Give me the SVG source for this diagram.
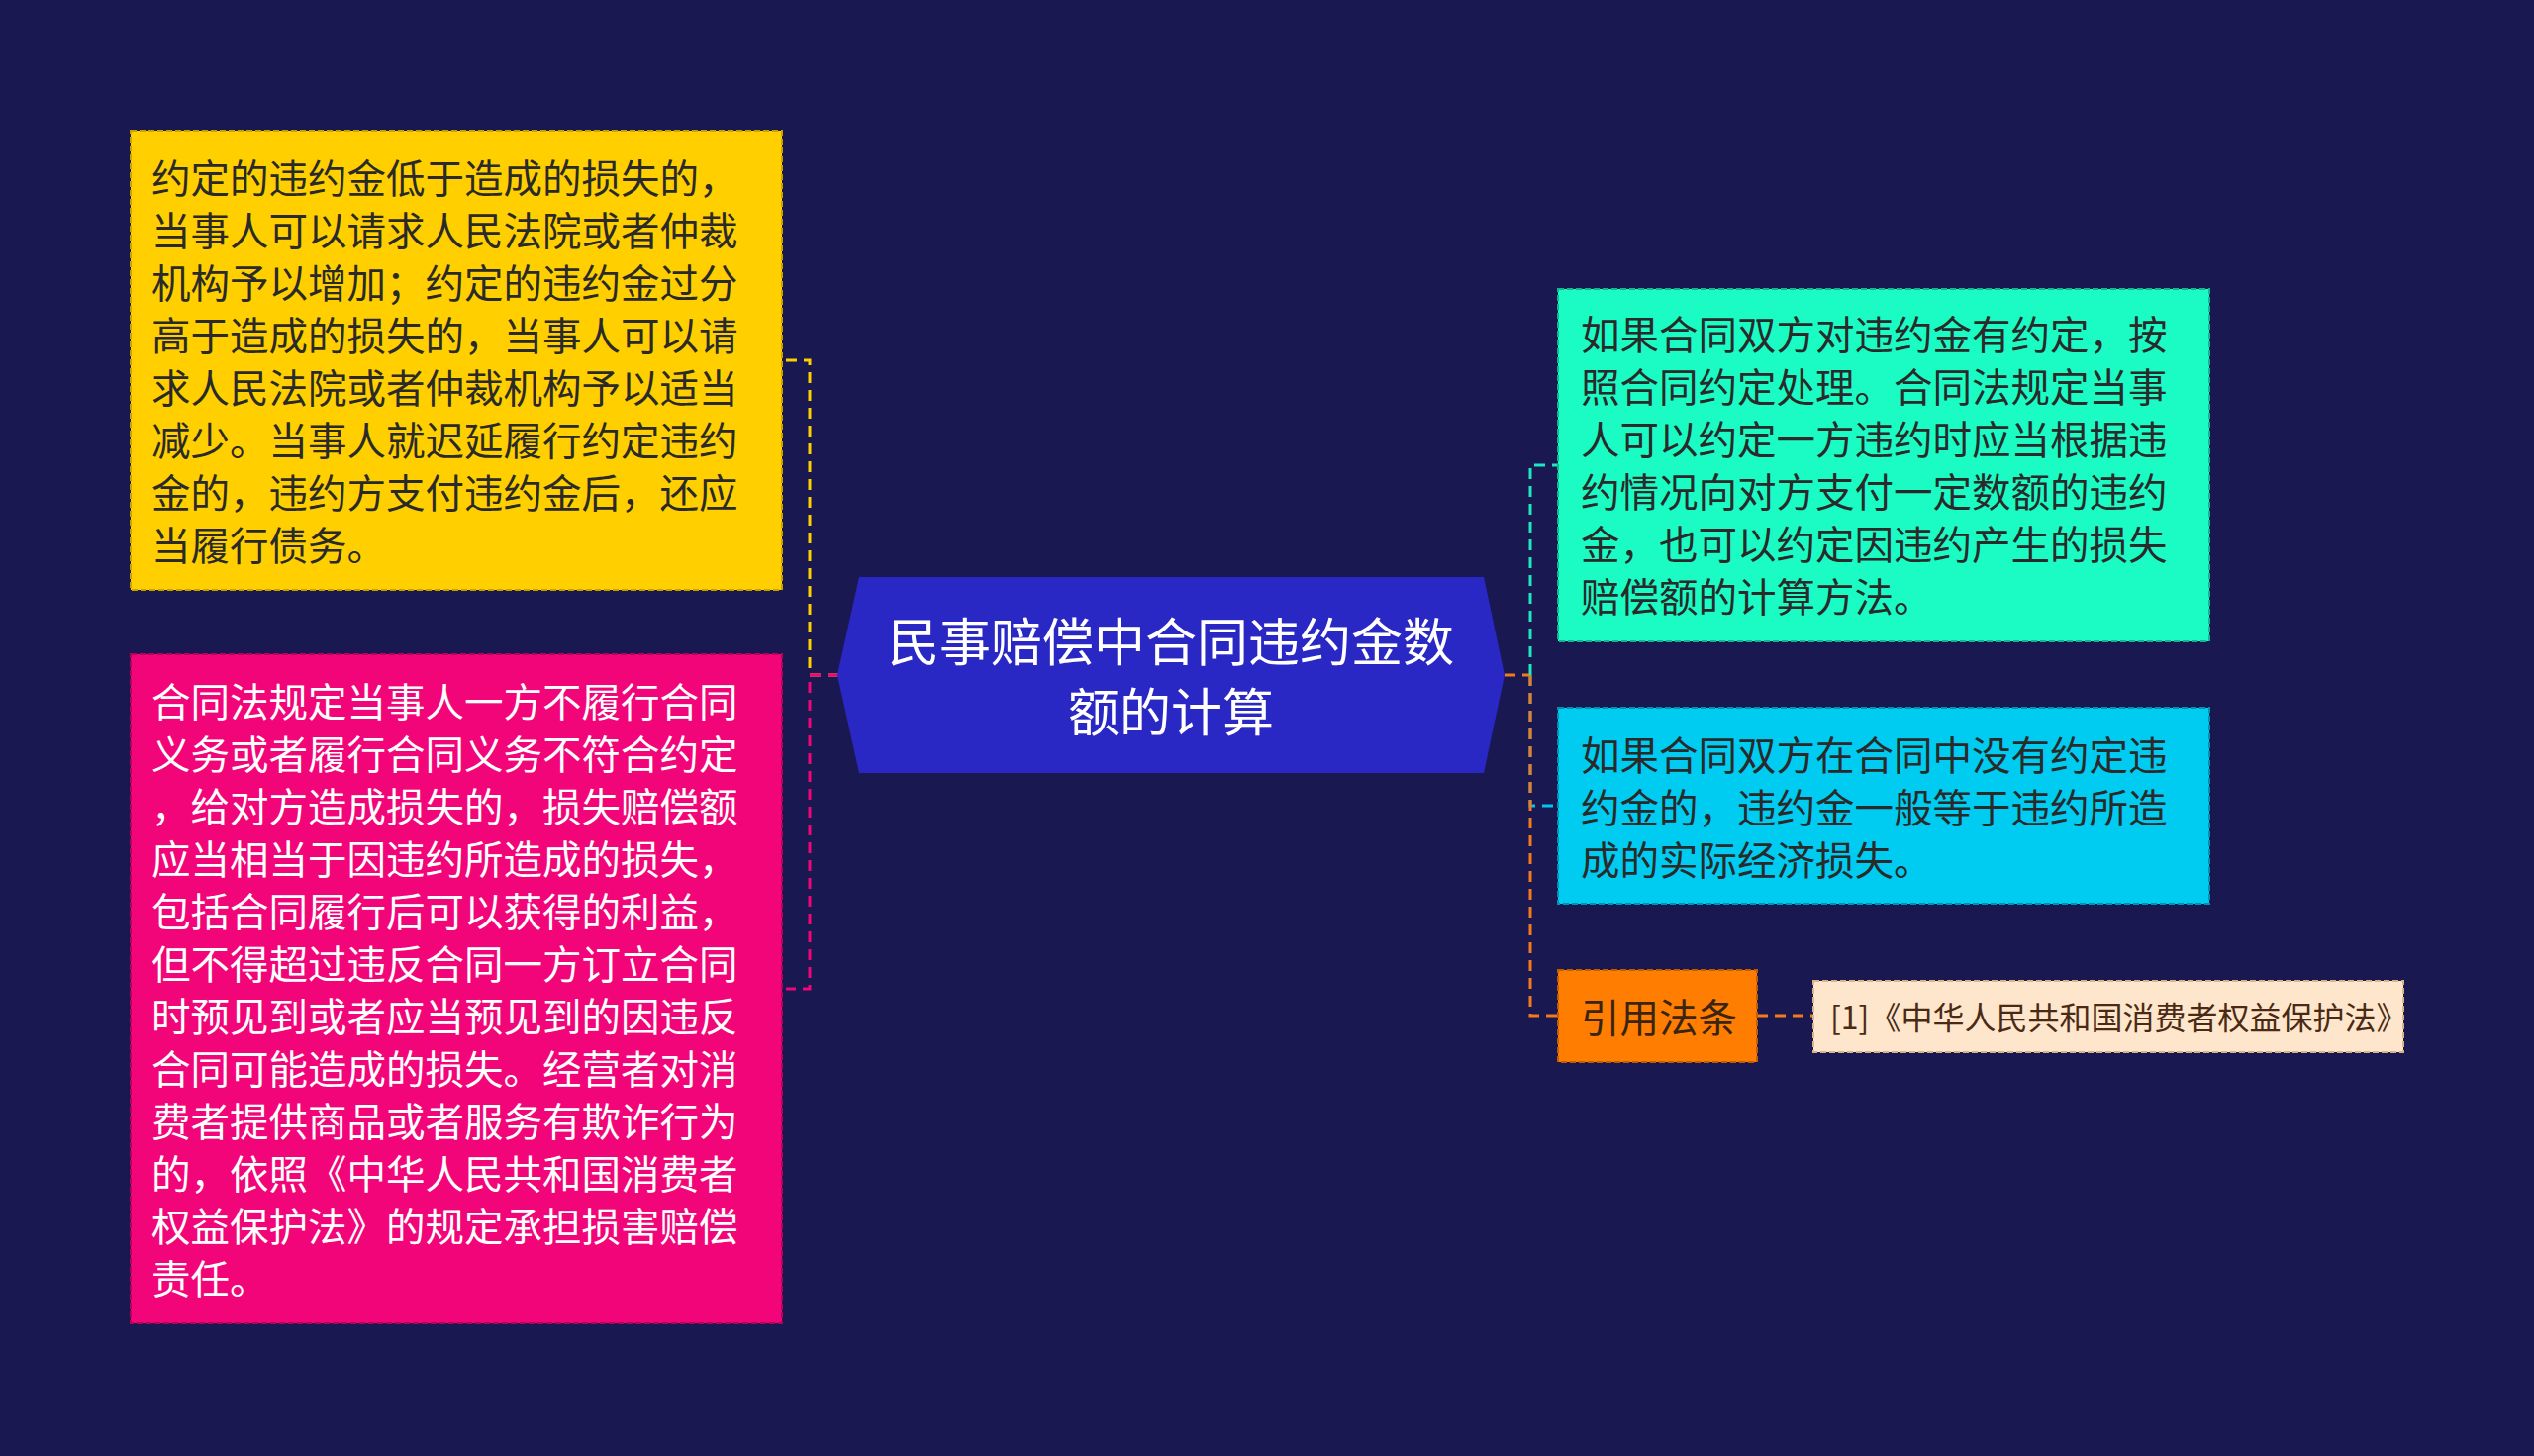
<svg xmlns="http://www.w3.org/2000/svg" width="2560" height="1471" viewBox="0 0 2560 1471">
<style>
text { font-family: "Noto Sans CJK SC", "Noto Sans", sans-serif; dominant-baseline: central; }
.t40 { font-size: 39.5px; }
.dark { fill: #2a2a2a; }
.white { fill: #ffffff; }
.conn { fill: none; stroke-width: 3; stroke-dasharray: 11 7; }
.box { stroke-width: 2; stroke-dasharray: 6 3; }
</style>
<rect x="0" y="0" width="2560" height="1471" fill="#1a1850"/>
<g id="connectors">
  <path class="conn" stroke="#ffd000" d="M847 682 H818 V364 H794"/>
  <path class="conn" stroke="#f0057a" d="M847 682 H818 V999 H794"/>
  <path class="conn" stroke="#f27a1c" d="M1520 682 H1546"/>
  <path class="conn" stroke="#1fe8c0" d="M1546 682 V470 H1574"/>
  <path class="conn" stroke="#00c6ef" d="M1546 682 V814 H1574"/>
  <path class="conn" stroke="#f27a1c" d="M1546 682 V1026 H1574"/>
  <path class="conn" stroke="#f27a1c" d="M1775 1026 H1832"/>
</g>
<g id="center">
  <polygon points="846,682 868,583 1499,583 1520,682 1499,781 868,781" fill="#2a28c4"/>
  <text x="1183" y="645" font-size="52" text-anchor="middle" class="white">民事赔偿中合同违约金数</text>
  <text x="1183" y="716" font-size="52" text-anchor="middle" class="white">额的计算</text>
</g>
<g id="node-yellow">
  <rect class="box" x="132" y="132" width="658" height="464" fill="#ffcf00" stroke="#c9a200"/>
  <g class="t40 dark">
    <text x="153" y="177">约定的违约金低于造成的损失的，</text>
    <text x="153" y="230">当事人可以请求人民法院或者仲裁</text>
    <text x="153" y="283">机构予以增加；约定的违约金过分</text>
    <text x="153" y="336">高于造成的损失的，当事人可以请</text>
    <text x="153" y="389">求人民法院或者仲裁机构予以适当</text>
    <text x="153" y="442">减少。当事人就迟延履行约定违约</text>
    <text x="153" y="495">金的，违约方支付违约金后，还应</text>
    <text x="153" y="548">当履行债务。</text>
  </g>
</g>
<g id="node-pink">
  <rect class="box" x="132" y="661" width="658" height="676" fill="#f20578" stroke="#b8005a"/>
  <g class="t40 white">
    <text x="153" y="706">合同法规定当事人一方不履行合同</text>
    <text x="153" y="759">义务或者履行合同义务不符合约定</text>
    <text x="153" y="812">，给对方造成损失的，损失赔偿额</text>
    <text x="153" y="865">应当相当于因违约所造成的损失，</text>
    <text x="153" y="918">包括合同履行后可以获得的利益，</text>
    <text x="153" y="971">但不得超过违反合同一方订立合同</text>
    <text x="153" y="1024">时预见到或者应当预见到的因违反</text>
    <text x="153" y="1077">合同可能造成的损失。经营者对消</text>
    <text x="153" y="1130">费者提供商品或者服务有欺诈行为</text>
    <text x="153" y="1183">的，依照《中华人民共和国消费者</text>
    <text x="153" y="1236">权益保护法》的规定承担损害赔偿</text>
    <text x="153" y="1289">责任。</text>
  </g>
</g>
<g id="node-teal">
  <rect class="box" x="1574" y="292" width="658" height="356" fill="#1afcc4" stroke="#10b890"/>
  <g class="t40 dark">
    <text x="1597" y="335">如果合同双方对违约金有约定，按</text>
    <text x="1597" y="388">照合同约定处理。合同法规定当事</text>
    <text x="1597" y="441">人可以约定一方违约时应当根据违</text>
    <text x="1597" y="494">约情况向对方支付一定数额的违约</text>
    <text x="1597" y="547">金，也可以约定因违约产生的损失</text>
    <text x="1597" y="600">赔偿额的计算方法。</text>
  </g>
</g>
<g id="node-blue">
  <rect class="box" x="1574" y="715" width="658" height="198" fill="#00cbf0" stroke="#0092b0"/>
  <g class="t40 dark">
    <text x="1597" y="760">如果合同双方在合同中没有约定违</text>
    <text x="1597" y="813">约金的，违约金一般等于违约所造</text>
    <text x="1597" y="866">成的实际经济损失。</text>
  </g>
</g>
<g id="node-orange">
  <rect class="box" x="1574" y="980" width="201" height="93" fill="#ff7d00" stroke="#c25e00"/>
  <text x="1597" y="1025" class="t40" fill="#3a2412">引用法条</text>
</g>
<g id="node-ref">
  <rect class="box" x="1832" y="991" width="596" height="72" fill="#fde6cb" stroke="#d9b48a"/>
  <text x="1849" y="1026" font-size="32" fill="#4a2a14">[1]《中华人民共和国消费者权益保护法》</text>
</g>
</svg>
